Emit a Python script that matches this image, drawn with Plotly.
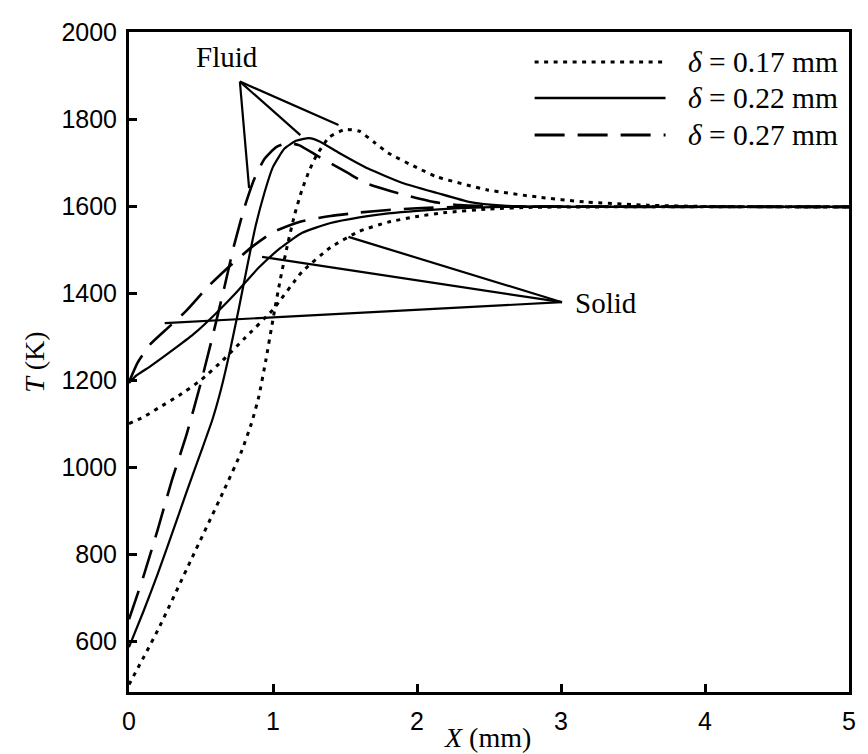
import plotly.graph_objects as go

# ---------------- data (X in mm, T in K) ----------------
deltas = ["0.17", "0.22", "0.27"]

fluid_x_017 = [0, 0.2, 0.43, 0.66, 0.78, 0.85, 0.90, 0.95, 1.00, 1.05, 1.10, 1.15, 1.20, 1.25, 1.30, 1.39, 1.50, 1.60, 1.70, 1.80, 2.00, 2.14, 2.49, 2.83, 3.18, 3.60, 4.00, 5.00]
fluid_T_017 = [500, 625, 786, 947, 1035, 1100, 1160, 1245, 1340, 1430, 1510, 1580, 1636, 1680, 1715, 1758, 1776, 1772, 1747, 1722, 1688, 1667, 1637, 1621, 1609, 1602, 1599, 1598]

fluid_x_022 = [0, 0.1, 0.2, 0.3, 0.4, 0.5, 0.58, 0.64, 0.70, 0.76, 0.82, 0.88, 0.94, 1.00, 1.08, 1.16, 1.25, 1.32, 1.46, 1.66, 1.90, 2.14, 2.37, 2.60, 3.00, 5.00]
fluid_T_022 = [586, 668, 755, 848, 943, 1035, 1110, 1180, 1265, 1360, 1460, 1555, 1630, 1690, 1732, 1750, 1756, 1749, 1722, 1686, 1653, 1630, 1609, 1601, 1598, 1598]

fluid_x_027 = [0, 0.1, 0.2, 0.3, 0.4, 0.5, 0.58, 0.66, 0.73, 0.80, 0.87, 0.94, 1.02, 1.10, 1.18, 1.32, 1.52, 1.64, 1.82, 1.92, 2.12, 2.30, 2.60, 5.00]
fluid_T_027 = [650, 748, 857, 972, 1075, 1195, 1300, 1410, 1510, 1595, 1662, 1708, 1735, 1745, 1740, 1713, 1676, 1653, 1634, 1625, 1609, 1602, 1599, 1598]

solid_x_017 = [0, 0.1, 0.2, 0.35, 0.5, 0.65, 0.8, 1.0, 1.2, 1.4, 1.6, 1.8, 2.0, 2.2, 2.5, 2.8, 3.2, 5.0]
solid_T_017 = [1100, 1115, 1135, 1165, 1200, 1245, 1295, 1362, 1448, 1505, 1542, 1563, 1576, 1585, 1593, 1597, 1598, 1598]

solid_x_022 = [0, 0.05, 0.15, 0.3, 0.45, 0.6, 0.75, 0.9, 1.05, 1.2, 1.4, 1.6, 1.8, 2.0, 2.3, 2.6, 5.0]
solid_T_022 = [1193, 1210, 1232, 1268, 1306, 1352, 1403, 1458, 1503, 1538, 1561, 1574, 1583, 1589, 1595, 1598, 1598]

solid_x_027 = [0, 0.06, 0.15, 0.27, 0.4, 0.55, 0.7, 0.85, 1.0, 1.2, 1.4, 1.6, 1.8, 2.0, 2.3, 5.0]
solid_T_027 = [1195, 1240, 1283, 1320, 1360, 1415, 1462, 1505, 1540, 1565, 1577, 1585, 1591, 1595, 1598, 1598]

x_ticks = [0, 1, 2, 3, 4, 5]
y_ticks = [600, 800, 1000, 1200, 1400, 1600, 1800, 2000]

# leader lines (apex -> curve) for labels
fluid_apex = (0.77, 1886)
fluid_ends = [(1.455, 1786), (1.19, 1763), (0.834, 1641)]
solid_apex = (3.007, 1379)
solid_ends = [(1.524, 1529), (0.924, 1483), (0.248, 1331)]

# ---------------- styles ----------------
SERIF = "Liberation Serif, Times New Roman, serif"
SANS = "Liberation Sans, Arial, sans-serif"
dashes = {"0.17": "4px,5.5px", "0.22": "solid", "0.27": "30px,13px"}
widths = {"0.17": 3, "0.22": 2.2, "0.27": 2.6}

fig = go.Figure()
series = [
    ("0.17", fluid_x_017, fluid_T_017, solid_x_017, solid_T_017),
    ("0.22", fluid_x_022, fluid_T_022, solid_x_022, solid_T_022),
    ("0.27", fluid_x_027, fluid_T_027, solid_x_027, solid_T_027),
]
for d, fx, fT, sx, sT in series:
    for xs, ts, nm in ((fx, fT, "fluid"), (sx, sT, "solid")):
        fig.add_trace(go.Scatter(
            x=xs, y=ts, mode="lines", name=f"{nm} δ={d}",
            line=dict(color="black", width=widths[d], dash=dashes[d],
                      shape="spline", smoothing=0.5),
            showlegend=False, hoverinfo="skip"))

shapes = []
for ex, ey in fluid_ends:
    shapes.append(dict(type="line", xref="x", yref="y", x0=fluid_apex[0], y0=fluid_apex[1],
                       x1=ex, y1=ey, line=dict(color="black", width=2.2)))
for ex, ey in solid_ends:
    shapes.append(dict(type="line", xref="x", yref="y", x0=solid_apex[0], y0=solid_apex[1],
                       x1=ex, y1=ey, line=dict(color="black", width=2.2)))

# custom legend (paper coords)
L, R, T_, B_ = 129, 855, 32, 692
def px(xp):
    return (xp - L) / (R - L)
def py(yp):
    return (B_ - yp) / (B_ - T_)

annotations = []
legend_rows = [62, 98, 135]
for d, row in zip(deltas, legend_rows):
    shapes.append(dict(type="line", xref="paper", yref="paper",
                       x0=px(538), x1=px(670), y0=py(row), y1=py(row),
                       line=dict(color="black", width=3 if d != "0.22" else 2.6, dash=dashes[d])))
    annotations.append(dict(xref="paper", yref="paper", x=px(691), y=py(row),
                            text=f"<i>δ</i> = {d} mm", showarrow=False,
                            xanchor="left", yanchor="middle",
                            font=dict(family=SERIF, size=29.5, color="black")))

annotations.append(dict(xref="paper", yref="paper", x=px(228), y=py(57), text="Fluid",
                        showarrow=False, xanchor="center", yanchor="middle",
                        font=dict(family=SERIF, size=29, color="black")))
annotations.append(dict(xref="paper", yref="paper", x=px(577), y=py(303), text="Solid",
                        showarrow=False, xanchor="left", yanchor="middle",
                        font=dict(family=SERIF, size=29, color="black")))
annotations.append(dict(xref="paper", yref="paper", x=px(490), y=py(737), text="<i>X</i> (mm)",
                        showarrow=False, xanchor="center", yanchor="middle",
                        font=dict(family=SERIF, size=28, color="black")))
annotations.append(dict(xref="paper", yref="paper", x=px(33), y=py(362), text="<i>T</i> (K)",
                        showarrow=False, xanchor="center", yanchor="middle", textangle=-90,
                        font=dict(family=SERIF, size=28, color="black")))

axis_common = dict(showline=True, linecolor="black", linewidth=3, mirror=True,
                   ticks="inside", ticklen=8, tickwidth=2.5, tickcolor="black",
                   showgrid=False, zeroline=False,
                   tickfont=dict(family=SANS, size=25, color="black"))

fig.update_layout(
    width=868, height=754,
    margin=dict(l=L, r=868 - R, t=T_, b=754 - B_),
    paper_bgcolor="white", plot_bgcolor="white",
    xaxis=dict(range=[0, 5], tickvals=x_ticks, ticklabelstandoff=5, **axis_common),
    yaxis=dict(range=[483, 2000], tickvals=y_ticks, ticklabelstandoff=4, **axis_common),
    shapes=shapes, annotations=annotations, showlegend=False,
)

fig.write_html("out.html")
